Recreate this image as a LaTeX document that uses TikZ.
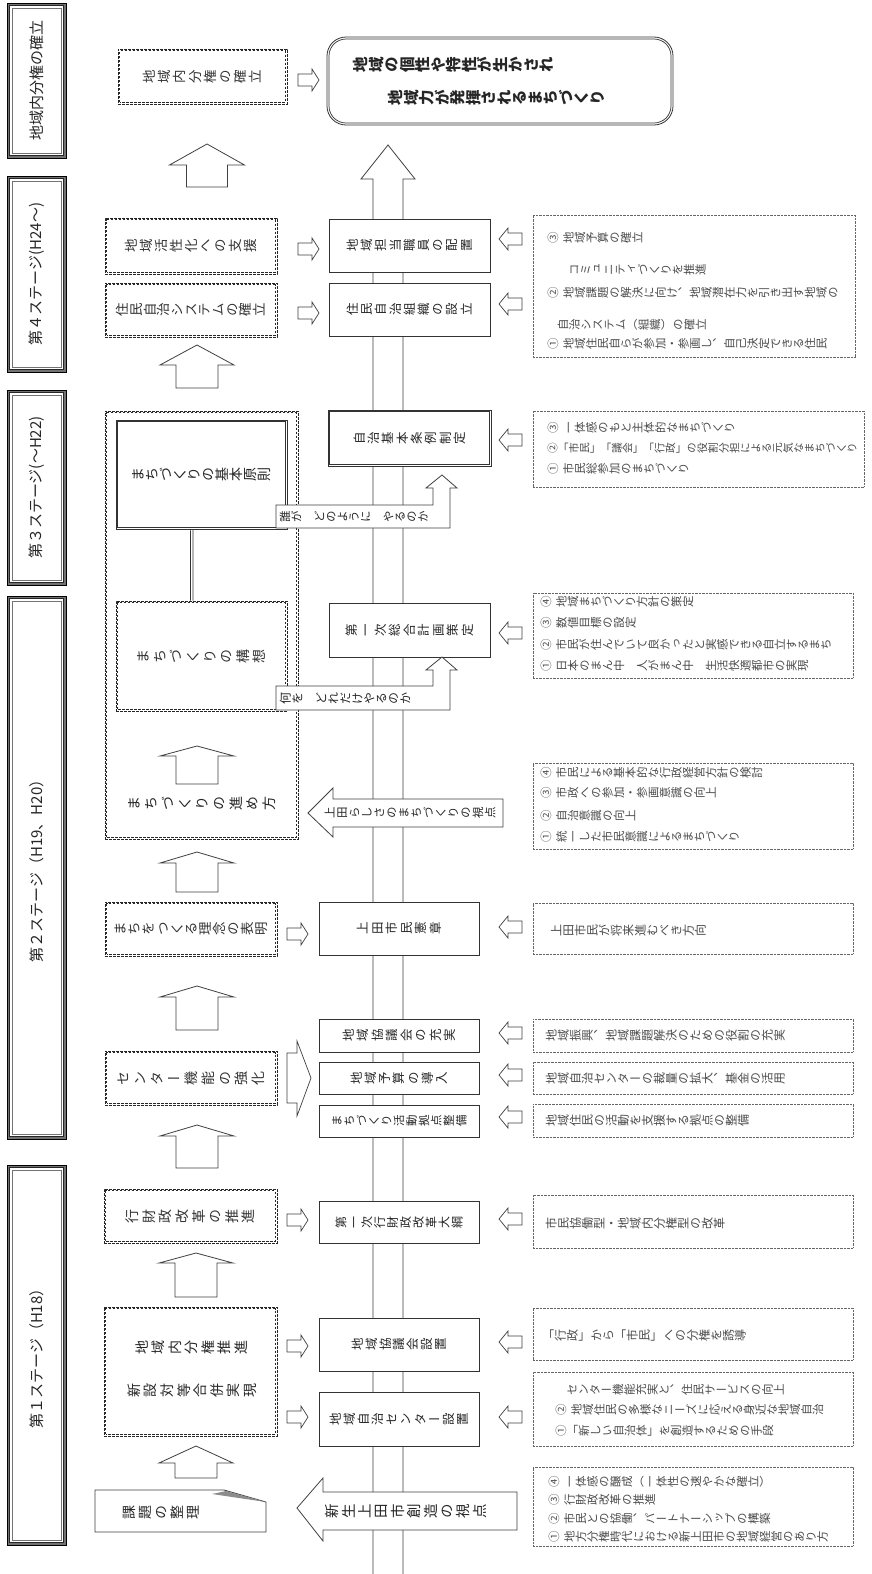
\documentclass[tikz,border=0pt]{standalone}
\usepackage{fontspec}
\usepackage{graphicx}
\newfontfamily\hjp{Noto Sans CJK JP}
\newfontfamily\vjp[RawFeature=+vert]{Noto Sans CJK JP}
\usetikzlibrary{calc}
\makeatletter
\newcommand\cell[1]{\rotatebox[origin=c]{90}{\raisebox{0pt}[0.88em][0.12em]{\makebox[1em][l]{#1}}}}
\def\spc{spc@marker}
\def\spr#1#2{\hbox to #1pt{\spr@a#2\relax}}
\def\spr@a#1{\cell{#1}\spr@b}
\def\spr@b#1{\ifx#1\relax\else\hfil\cell{#1}\expandafter\spr@b\fi}
\def\vt#1{\vt@b#1\relax}
\def\vt@b#1{\ifx#1\relax\else\vt@c{#1}\expandafter\vt@b\fi}
\def\vt@c#1{\ifx#1\spc\kern0.35em\else\cell{#1}\fi}
\makeatother
\newcommand\vfs[1]{\vjp\fontsize{#1}{#1}\selectfont}
\newcommand\hfs[1]{\hjp\fontsize{#1}{#1}\selectfont}
\newcommand\uparr[6]{\draw[blk] (#1,#2) -- ({#1+#5},#3) -- ({#1+#6},#3) -- ({#1+#6},#4) -- ({#1-#6},#4) -- ({#1-#6},#3) -- ({#1-#5},#3) -- cycle;}
\newcommand\rarr[2]{\draw[blk,line width=0.7pt] (#1,{#2-6}) -- ({#1+14},{#2-6}) -- ({#1+14},{#2-11}) -- ({#1+21},#2) -- ({#1+14},{#2+11}) -- ({#1+14},{#2+6}) -- (#1,{#2+6}) -- cycle;}
\newcommand\larr[2]{\draw[blk,line width=0.7pt] (#1,#2) -- ({#1+9},{#2-11}) -- ({#1+9},{#2-6}) -- ({#1+23},{#2-6}) -- ({#1+23},{#2+6}) -- ({#1+9},{#2+6}) -- ({#1+9},{#2+11}) -- cycle;}
\newcommand\inbox[3]{\draw[#1] ($(#2.south west)+(#3,-#3)$) rectangle ($(#2.north east)+(-#3,#3)$);}
\newcommand\stagebar[4]{%
  \node[sbar, minimum height=#3] (#1) at (36.5,#2) {};
  \draw[fill=white, draw=black!85, line width=0.9pt] ($(#1.south west)+(3.2,-3.2)$) rectangle ($(#1.north east)+(-3.2,3.2)$);
  \draw[draw=black!55, line width=0.5pt] ($(#1.south west)+(5.4,-5.4)$) rectangle ($(#1.north east)+(-5.4,5.4)$);
  \node[stxt, rotate=90] (#1t) at (#1) {#4};}
\begin{document}
\begin{tikzpicture}[x=1pt,y=-1pt,
  cbox/.style={draw=black!80, line width=0.8pt, fill=white, inner sep=0pt, text=black!85},
  sline/.style={draw=black!80, line width=0.7pt},
  dline/.style={draw=black!85, line width=1pt, dash pattern=on 2.6pt off 1.4pt},
  dbox/.style={dline, fill=white, inner sep=0pt, text=black!80},
  rbox/.style={draw=black!60, line width=0.6pt, dash pattern=on 0.6pt off 0.8pt, inner sep=0pt},
  rtxt/.style={inner sep=0pt, anchor=west, text=black!70, font=\vfs{11.5}},
  r1txt/.style={inner sep=0pt, anchor=west, text=black!70, font=\vfs{12}},
  blk/.style={draw=black!75, fill=white, line width=0.8pt, line join=miter},
  sbar/.style={draw=black, fill=black!55, line width=0.8pt, minimum width=59pt, inner sep=0pt},
  stxt/.style={inner sep=0pt, text=black!85, font=\hfs{15}},
  txt/.style={inner sep=0pt, text=black!85}]
\useasboundingbox (0,0) rectangle (871,1574);
\fill[white] (0,0) rectangle (871,1574);

% spine
\draw[blk] (373,1574) -- (373,179) -- (361,179) -- (388,145) -- (415,179) -- (403,179) -- (403,1574);

% stage bars
\stagebar{s0}{80.5}{155}{地域内分権の確立}
\stagebar{s4}{274}{196}{第４ステージ(H24〜)}
\stagebar{s3}{487.5}{195}{第３ステージ(〜H22)}
\stagebar{s2}{867.5}{543}{第２ステージ（H19、H20）}
\stagebar{s1}{1355}{380}{第１ステージ（H18）}

% central boxes
\node[cbox, minimum width=160, minimum height=54] (c1) at (399,1419) {\vfs{12.5}\spr{140}{地域自治センター設置}};
\node[cbox, minimum width=160, minimum height=53] (c2) at (399,1344.5) {\vfs{12.5}\spr{95}{地域協議会設置}};
\node[cbox, minimum width=160, minimum height=42] (c3) at (399,1222) {\vfs{12}\spr{128}{第一次行財政改革大綱}};
\node[cbox, minimum width=160, minimum height=32] (c4) at (399,1121) {\vfs{11.5}\spr{136}{まちづくり活動拠点整備}};
\node[cbox, minimum width=160, minimum height=32] (c5) at (399,1078) {\vfs{12.5}\spr{98}{地域予算の導入}};
\node[cbox, minimum width=160, minimum height=33] (c6) at (399,1035.5) {\vfs{12.5}\spr{114}{地域協議会の充実}};
\node[cbox, minimum width=160, minimum height=53] (c7) at (399,928.5) {\vfs{12.5}\spr{85}{上田市民憲章}};
\node[cbox, minimum width=161, minimum height=54] (c8) at (409.5,630) {\vfs{12.5}\spr{128}{第一次総合計画策定}};
\node[cbox, minimum width=163, minimum height=56] (c9) at (409.5,438) {\vfs{12.5}\spr{113}{自治基本条例制定}};
\inbox{sline}{c9}{2.2}
\node[cbox, minimum width=161, minimum height=53] (c10) at (409.5,309.5) {\vfs{12.5}\spr{126}{住民自治組織の設立}};
\node[cbox, minimum width=161, minimum height=53] (c11) at (409.5,245.5) {\vfs{12.5}\spr{126}{地域担当職員の配置}};

% goal
\node[cbox, rounded corners=19pt, minimum width=346, minimum height=88] (goal) at (500,81) {};
\draw[sline, rounded corners=17pt] ($(goal.south west)+(2.4,-2.4)$) rectangle ($(goal.north east)+(-2.4,2.4)$);
\node[txt] (g1) at (451.5,65) {\vfs{15.5}\bfseries\spr{197}{地域の個性や特性が生かされ}};
\node[txt] (g2) at (492.5,98) {\vfs{15.5}\bfseries\spr{209}{地域力が発揮されるまちづくり}};

% left dashed boxes
\node[dbox, minimum width=169, minimum height=55] (d9) at (202.5,76.5) {\vfs{13.5}\spr{120}{地域内分権の確立}};
\inbox{dline}{d9}{2.4}
\node[dbox, minimum width=172, minimum height=56] (d8) at (191,246) {\vfs{13.5}\spr{132}{地域活性化への支援}};
\inbox{dline}{d8}{2.4}
\node[dbox, minimum width=172, minimum height=54] (d7) at (191,310) {\vfs{13.5}\spr{150}{住民自治システムの確立}};
\inbox{dline}{d7}{2.4}
\node[dbox, minimum width=193, minimum height=428] (d5) at (201.5,625) {};
\inbox{dline}{d5}{2.4}
\node[cbox, minimum width=171, minimum height=109] (kihon) at (201.5,474.5) {\vfs{14}\spr{140}{まちづくりの基本原則}};
\inbox{sline}{kihon}{2.2}
\node[dbox, minimum width=171, minimum height=110] (kousou) at (201.5,656) {\vfs{14}\spr{130}{まちづくりの構想}};
\inbox{dline}{kousou}{2.4}
\node[txt] (susume) at (202,803) {\vfs{14}\spr{149}{まちづくりの進め方}};
\draw[sline] ($(kihon.south west)+(75,0)$) -- ($(kousou.north west)+(75,0)$);
\draw[sline] ($(kihon.south west)+(77.4,0)$) -- ($(kousou.north west)+(77.4,0)$);
\node[dbox, minimum width=172, minimum height=54] (d4) at (191,929) {\vfs{13.5}\spr{154}{まちをつくる理念の表明}};
\inbox{dline}{d4}{2.4}
\node[dbox, minimum width=172, minimum height=54] (d3) at (191,1078) {\vfs{14}\spr{149}{センター機能の強化}};
\inbox{dline}{d3}{2.4}
\node[dbox, minimum width=173, minimum height=54] (d2) at (190.5,1216) {\vfs{14}\spr{130}{行財政改革の推進}};
\inbox{dline}{d2}{2.4}
\node[dbox, minimum width=173, minimum height=129] (d1) at (190.5,1371.5) {};
\inbox{dline}{d1}{2.4}
\node[txt] (d1a) at (191.5,1347) {\vfs{14}\spr{113}{地域内分権推進}};
\node[txt] (d1b) at (192,1390) {\vfs{14}\spr{130}{新設対等合併実現}};

% callout
\draw[blk] (95,1490) -- (224,1490) -- (266,1502) -- (266,1532) -- (95,1532) -- cycle;
\fill[black!45] (212,1494) -- (266,1502) -- (226,1491) -- cycle;
\node[txt, anchor=west] (kadai) at (122,1512) {\vfs{14}\spr{78}{課題の整理}};

% up block arrows
\uparr{207}{144}{165}{187}{37.5}{20.5}
\uparr{197}{345}{365}{388}{37}{21}
\uparr{197}{746}{756}{784}{37}{21}
\uparr{197}{852}{863}{892}{37}{21}
\uparr{197}{986}{997}{1030}{37}{21}
\uparr{197}{1125}{1136}{1168}{37}{21}
\uparr{196}{1253}{1263}{1297}{37}{21}
\uparr{196}{1446}{1463}{1478}{37}{21}

% small right arrows
\rarr{298}{80}
\rarr{298}{249}
\rarr{298}{313}
\rarr{287}{934}
\rarr{287}{1220}
\rarr{287}{1346}
\rarr{287}{1417}
\draw[blk,line width=0.7pt] (287,1053) -- (297,1053) -- (297,1041) -- (311,1078) -- (297,1116) -- (297,1103) -- (287,1103) -- cycle;

% big left arrows
\draw[blk] (297,1508) -- (323,1478) -- (323,1492) -- (517,1492) -- (517,1530) -- (323,1530) -- (323,1541) -- cycle;
\node[txt] (bl1) at (406,1511) {\vfs{14.5}\spr{162}{新生上田市創造の視点}};
\draw[blk] (308,813) -- (333,788) -- (333,799) -- (503,799) -- (503,827) -- (333,827) -- (333,837) -- cycle;
\node[txt] (bl2) at (410,813) {\vfs{11.5}\spr{172}{上田らしさのまちづくりの視点}};

% bent label arrows
\draw[blk] (276,686) -- (433,686) -- (433,670) -- (426,670) -- (442,657) -- (457,670) -- (450,670) -- (450,710) -- (276,710) -- cycle;
\node[txt, anchor=west] (la) at (279,698) {\vfs{12}\vt{何を　どれだけやるのか}};
\draw[blk] (276,505) -- (433,505) -- (433,488) -- (426,488) -- (442,475) -- (457,488) -- (450,488) -- (450,528) -- (276,528) -- cycle;
\node[txt, anchor=west] (lb) at (279,517) {\vfs{11.5}\vt{誰が　どのように　やるのか}};

% small left arrows
\larr{499}{239}
\larr{499}{304}
\larr{499}{440}
\larr{499}{633}
\larr{499}{927}
\larr{499}{1033}
\larr{499}{1075}
\larr{499}{1117}
\larr{499}{1219}
\larr{499}{1342}
\larr{499}{1417}

% right boxes
\node[rbox, minimum width=322, minimum height=142] (ra) at (694,286) {};
\node[rtxt] (ra3) at (547,238) {\vt{③\spc 地域予算の確立}};
\node[rtxt] (ra2b) at (568,270) {\vt{コミュニティづくりを推進}};
\node[rtxt] (ra2) at (547,293) {\vt{②\spc 地域課題の解決に向け、地域潜在力を引き出す地域の}};
\node[rtxt] (ra1b) at (557,325) {\vt{自治システム（組織）の確立}};
\node[rtxt] (ra1) at (547,344) {\vt{①\spc 地域住民自らが参加・参画し、自己決定できる住民}};

\node[rbox, minimum width=331, minimum height=76] (rb) at (698.5,449) {};
\node[rtxt] (rb3) at (547,428) {\vt{③\spc 一体感のもと主体的なまちづくり}};
\node[rtxt, font=\vfs{10.7}] (rb2) at (547,448) {\vt{②「市民」「議会」「行政」の役割分担による元気なまちづくり}};
\node[rtxt] (rb1) at (547,469) {\vt{①\spc 市民総参加のまちづくり}};

\node[rbox, minimum width=320, minimum height=85] (rc) at (693,635.5) {};
\node[rtxt] (rc4) at (540,602) {\vt{④\spc 地域まちづくり方針の策定}};
\node[rtxt] (rc3) at (540,623) {\vt{③\spc 数値目標の設定}};
\node[rtxt] (rc2) at (540,645) {\vt{②\spc 市民が住んでいて良かったと実感できる自立するまち}};
\node[rtxt] (rc1) at (540,666) {\vt{①\spc 日本のまん中　人がまん中　生活快適都市の実現}};

\node[rbox, minimum width=320, minimum height=86] (rd) at (693,806) {};
\node[rtxt] (rd4) at (540,773) {\vt{④\spc 市民による基本的な行政経営方針の検討}};
\node[rtxt] (rd3) at (540,793) {\vt{③\spc 市政への参加・参画意識の向上}};
\node[rtxt] (rd2) at (540,816) {\vt{②\spc 自治意識の向上}};
\node[rtxt] (rd1) at (540,837) {\vt{①\spc 統一した市民意識によるまちづくり}};

\node[rbox, minimum width=320, minimum height=51] (re) at (693,928.5) {};
\node[r1txt] (re1) at (550,930) {\vt{上田市民が将来進むべき方向}};
\node[rbox, minimum width=320, minimum height=33] (rf) at (693,1035.5) {};
\node[r1txt] (rf1) at (545,1035.5) {\vt{地域振興、地域課題解決のための役割の充実}};
\node[rbox, minimum width=320, minimum height=32] (rg) at (693,1078) {};
\node[r1txt] (rg1) at (545,1078) {\vt{地域自治センターの裁量の拡大、基金の活用}};
\node[rbox, minimum width=320, minimum height=33] (rh) at (693,1120.5) {};
\node[r1txt] (rh1) at (545,1120.5) {\vt{地域住民の活動を支援する拠点の整備}};
\node[rbox, minimum width=320, minimum height=53] (ri) at (693,1221.5) {};
\node[r1txt] (ri1) at (545,1223) {\vt{市民協働型・地域内分権型の改革}};
\node[rbox, minimum width=320, minimum height=52] (rj) at (693,1334) {};
\node[r1txt] (rj1) at (542,1335) {\vt{「行政」から「市民」への分権を誘導}};

\node[rbox, minimum width=320, minimum height=74] (rk) at (693,1409) {};
\node[rtxt] (rk2b) at (566,1390) {\vt{センター機能充実と、住民サービスの向上}};
\node[rtxt] (rk2) at (555,1410) {\vt{②\spc 地域住民の多様なニーズに応える身近な地域自治}};
\node[rtxt] (rk1) at (555,1431) {\vt{①「新しい自治体」を創造するための手段}};

\node[rbox, minimum width=320, minimum height=79] (rl) at (693,1506.5) {};
\node[rtxt] (rl4) at (548,1482) {\vt{④\spc 一体感の醸成（一体性の速やかな確立）}};
\node[rtxt] (rl3) at (548,1500) {\vt{③\spc 行財政改革の推進}};
\node[rtxt] (rl2) at (548,1519) {\vt{②\spc 市民との協働、パートナーシップの構築}};
\node[rtxt] (rl1) at (548,1537) {\vt{①\spc 地方分権時代における新上田市の地域経営のあり方}};
\end{tikzpicture}
\end{document}
